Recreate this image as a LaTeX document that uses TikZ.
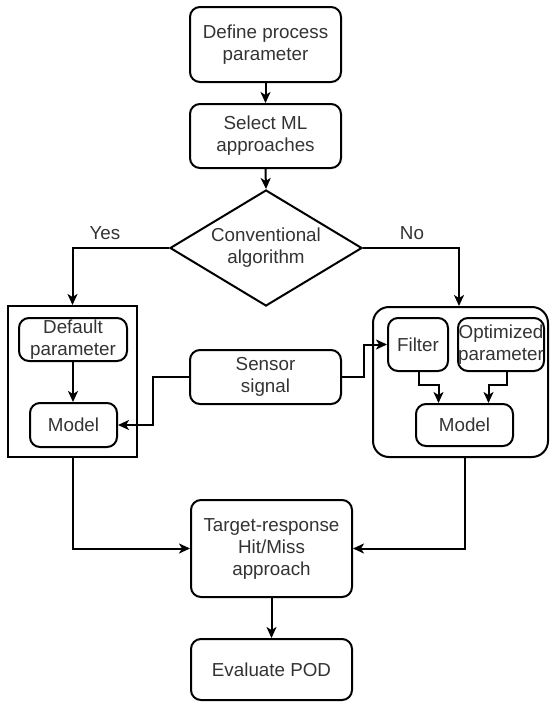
\documentclass[tikz,border=0pt]{standalone}
\usepackage{fontspec}
\setmainfont{Liberation Sans}
\usetikzlibrary{shapes.geometric,arrows.meta}
\begin{document}
\begin{tikzpicture}[x=1pt,y=-1pt,
  every node/.style={font=\fontsize{18.8}{22}\selectfont, text=black!80},
  box/.style={draw=black, line width=2pt, rounded corners=10pt, align=center, inner sep=0pt},
  frame/.style={draw=black, line width=2pt, inner sep=0pt},
  arr/.style={draw=black, line width=2pt, -{Stealth[length=11pt,width=10pt,inset=3pt]}},
  ln/.style={draw=black, line width=2pt}]
\useasboundingbox (0,0) rectangle (550,704);
\node[box, minimum width=151pt, minimum height=75pt] (def) at (265.5,44.5) {Define process\\parameter};
\node[box, minimum width=151pt, minimum height=64pt] (sel) at (265.5,136) {Select ML\\approaches};
\node[draw=black, line width=2pt, diamond, shape aspect=1.655, inner sep=0pt, minimum width=192pt, minimum height=116pt, align=center] (dia) at (266,248) {Conventional\\algorithm};
\node[frame, minimum width=129pt, minimum height=151pt] (lbox) at (72.5,381.5) {};
\node[frame, rounded corners=16pt, minimum width=175pt, minimum height=150pt] (rbox) at (460.5,382) {};
\node[box, minimum width=108pt, minimum height=43pt] (dflt) at (73,339.5) {Default\\parameter};
\node[box, minimum width=87pt, minimum height=44pt] (modl) at (73.5,425) {Model};
\node[box, minimum width=151pt, minimum height=54pt] (sens) at (265.5,377) {Sensor\\signal};
\node[box, minimum width=60pt, minimum height=53pt] (filt) at (418,344.5) {Filter};
\node[box, minimum width=86pt, minimum height=53pt] (opt) at (501,344.5) {Optimized\\parameter};
\node[box, minimum width=97pt, minimum height=42pt] (modr) at (464.5,425) {Model};
\node[box, minimum width=161pt, minimum height=97pt] (targ) at (271.5,548.5) {Target-response\\Hit/Miss\\approach};
\node[box, minimum width=161pt, minimum height=61pt] (eval) at (271.5,669.5) {Evaluate POD};
\node (yes) at (105,233) {Yes};
\node (no) at (412,233) {No};
\coordinate (sl) at (153,377);
\coordinate (sr) at (364,377);
\draw[arr] (def.south) -- (sel.north);
\draw[arr] (sel.south) -- (dia.north);
\draw[arr] (dia.west) -| (lbox.north);
\draw[arr] (dia.east) -| ([xshift=-1.5pt]rbox.north);
\draw[arr] (dflt.south) -- (dflt.south |- modl.north);
\draw[arr] (sens.west) -- (sl) |- (modl.east);
\draw[arr] (sens.east) -- (sr) |- (filt.west);
\draw[arr] ([xshift=1pt]filt.south) -- ++(0,13) -| ([xshift=-26pt]modr.north);
\draw[arr] ([xshift=6pt]opt.south) -- ++(0,13) -| ([xshift=24pt]modr.north);
\draw[arr] (lbox.south) |- (targ.west);
\draw[arr] ([xshift=4pt]rbox.south) |- (targ.east);
\draw[arr] (targ.south) -- (eval.north);
\end{tikzpicture}
\end{document}
